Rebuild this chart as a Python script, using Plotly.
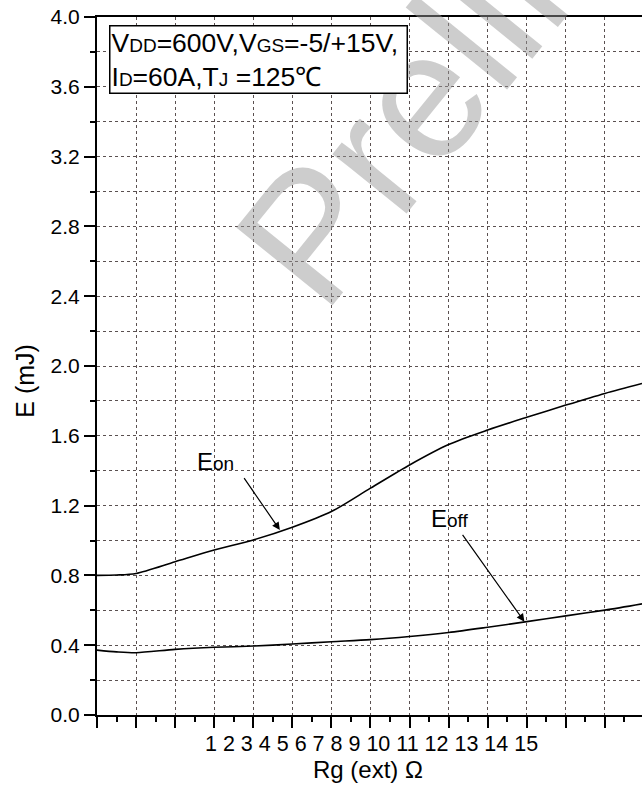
import plotly.graph_objects as go

# ---- data ----
rg = [0, 0.5, 1, 2, 3, 4, 5, 6, 7, 8, 9, 10, 11, 12, 13, 13.95]
e_on = [0.80, 0.802, 0.811, 0.878, 0.945, 1.003, 1.076, 1.166, 1.30, 1.433, 1.55, 1.633, 1.706, 1.776, 1.843, 1.90]
e_off = [0.372, 0.362, 0.357, 0.376, 0.388, 0.395, 0.407, 0.42, 0.432, 0.45, 0.473, 0.503, 0.535, 0.568, 0.601, 0.637]
x_tick_labels = [str(i) for i in range(1, 16)]
y_tick_vals = [0.0, 0.4, 0.8, 1.2, 1.6, 2.0, 2.4, 2.8, 3.2, 3.6, 4.0]
y_tick_text = [f"{v:.1f}" for v in y_tick_vals]

FONT = "Liberation Sans, Arial, sans-serif"
GRID = "#5a5050"

fig = go.Figure()
fig.add_trace(go.Scatter(x=rg, y=e_on, mode="lines", line=dict(color="black", width=1.6, shape="spline", smoothing=0.8), showlegend=False))
fig.add_trace(go.Scatter(x=rg, y=e_off, mode="lines", line=dict(color="black", width=1.6, shape="spline", smoothing=0.8), showlegend=False))

fig.update_layout(
    width=642, height=787,
    margin=dict(l=97, r=0, t=17, b=72),
    paper_bgcolor="white", plot_bgcolor="white",
    font=dict(family=FONT, color="black"),
    xaxis=dict(
        range=[0, 13.95], showline=True, linecolor="black", linewidth=2, mirror=True,
        ticks="outside", ticklen=11, tickwidth=2, tickcolor="black",
        tick0=0, dtick=1, showticklabels=False,
        showgrid=True, gridcolor=GRID, griddash="dot", gridwidth=1,
        zeroline=False,
        minor=dict(ticks="outside", ticklen=5, tickwidth=2, tickcolor="black", dtick=0.5, tick0=0, showgrid=False),
    ),
    yaxis=dict(
        range=[0, 4.0], showline=True, linecolor="black", linewidth=2, mirror=False,
        ticks="outside", ticklen=11, tickwidth=2, tickcolor="black",
        tickvals=y_tick_vals, ticktext=y_tick_text, tickfont=dict(size=21, family=FONT),
        showgrid=True, gridcolor=GRID, griddash="dot", gridwidth=1,
        zeroline=False,
        minor=dict(ticks="outside", ticklen=5, tickwidth=2, tickcolor="black", dtick=0.2, tick0=0,
                   showgrid=True, gridcolor=GRID, griddash="dot", gridwidth=1),
    ),
)

ann = []
# watermark
ann.append(dict(text="Preliminary", xref="paper", yref="paper", x=0.846, y=1.128,
                xanchor="center", yanchor="middle", showarrow=False, textangle=-51,
                font=dict(size=180, family=FONT, color="rgba(150,150,150,0.48)")))
# x tick labels row
ann.append(dict(text=" ".join(x_tick_labels), xref="x", yref="paper", x=7.03, y=-0.0415,
                xanchor="center", yanchor="middle", showarrow=False, font=dict(size=21.5, family=FONT)))
# axis titles
ann.append(dict(text="Rg (ext) Ω", xref="paper", yref="paper", x=0.497, y=-0.0775,
                xanchor="center", yanchor="middle", showarrow=False, font=dict(size=24, family=FONT)))
ann.append(dict(text="E (mJ)", xref="paper", yref="paper", x=-0.1327, y=0.4785, textangle=-90,
                xanchor="center", yanchor="middle", showarrow=False, font=dict(size=25, family=FONT)))
# condition box
sub = "<span style='font-size:19px'>{}</span>"
box_text = ("V" + sub.format("DD") + "=600V,V" + sub.format("GS") + "=-5/+15V,&nbsp;<br>"
            "I" + sub.format("D") + "=60A,T" + sub.format("J") + " =125℃")
ann.append(dict(text=box_text, xref="paper", yref="paper", x=0.0215, y=0.9885,
                xanchor="left", yanchor="top", align="left", showarrow=False,
                bgcolor="white", bordercolor="black", borderwidth=1.5, borderpad=1,
                font=dict(size=26.5, family=FONT)))
# arrows
ann.append(dict(text="", x=4.68, y=1.06, ax=3.74, ay=1.366, xref="x", yref="y", axref="x", ayref="y",
                showarrow=True, arrowhead=2, arrowsize=1.3, arrowwidth=1.2, arrowcolor="black"))
ann.append(dict(text="", x=10.94, y=0.535, ax=9.33, ay=1.041, xref="x", yref="y", axref="x", ayref="y",
                showarrow=True, arrowhead=2, arrowsize=1.3, arrowwidth=1.2, arrowcolor="black"))
# curve labels
ann.append(dict(text="E<span style='font-size:19px'>on</span>", x=(216 - 97.3) / 39.05, y=(715 - 461) / 174.5,
                xref="x", yref="y", showarrow=False, font=dict(size=24, family=FONT)))
ann.append(dict(text="E<span style='font-size:19px'>off</span>", x=(450 - 97.3) / 39.05, y=(715 - 518) / 174.5,
                xref="x", yref="y", showarrow=False, font=dict(size=24, family=FONT)))
fig.update_layout(annotations=ann)

fig.write_html("out.html")
